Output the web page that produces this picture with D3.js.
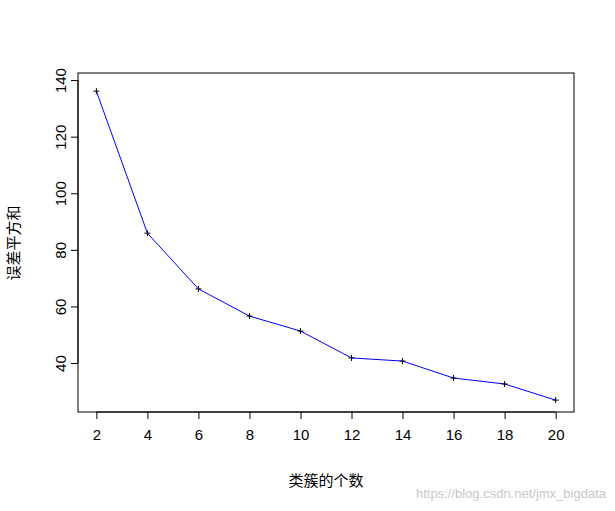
<!DOCTYPE html>
<html><head><meta charset="utf-8">
<script src="https://cdn.jsdelivr.net/npm/d3@7"></script>
<style>body{margin:0;background:#fff}text{font-family:Arial,"Liberation Sans","Noto Sans CJK SC",sans-serif}</style>
</head><body><div id="chart"></div>
<script>
var clusters = [2, 4, 6, 8, 10, 12, 14, 16, 18, 20];
var sse = [136.1, 85.9, 66.2, 56.6, 51.3, 41.8, 40.7, 34.7, 32.6, 26.9];
var xTicks = [2, 4, 6, 8, 10, 12, 14, 16, 18, 20];
var yTicks = [40, 60, 80, 100, 120, 140];

var width = 615, height = 511;
var svg = d3.select("#chart").append("svg").attr("width", width).attr("height", height);
var x = d3.scaleLinear().domain([1.28, 20.72]).range([78, 574]);
var y = d3.scaleLinear().domain([22.7, 142.5]).range([412, 73]);

svg.append("rect").attr("x", 78).attr("y", 73).attr("width", 496).attr("height", 339)
  .attr("fill", "none").attr("stroke", "#000");

var xa = svg.append("g").attr("transform", "translate(0,412)")
  .call(d3.axisBottom(x).tickValues(xTicks).tickSize(7).tickPadding(10));
var ya = svg.append("g").attr("transform", "translate(78,0)")
  .call(d3.axisLeft(y).tickValues(yTicks).tickSize(7).tickPadding(5));
[xa, ya].forEach(function (a) {
  a.select(".domain").remove();
  a.selectAll("text").attr("font-size", 15).attr("fill", "#000");
});
xa.append("line").attr("x1", x(2)).attr("x2", x(20)).attr("stroke", "#000");
ya.append("line").attr("y1", y(40)).attr("y2", y(140)).attr("stroke", "#000");
ya.selectAll(".tick text").attr("text-anchor", "middle")
  .attr("transform", "translate(-17,0) rotate(-90)")
  .attr("x", 0).attr("dy", "0.35em");

var line = d3.line().x(function (d, i) { return x(clusters[i]); }).y(function (d) { return y(d); });
svg.append("path").datum(sse).attr("d", line).attr("fill", "none").attr("stroke", "#0000ff");

svg.selectAll(".pt").data(sse).enter().append("path")
  .attr("transform", function (d, i) { return "translate(" + x(clusters[i]) + "," + y(d) + ")"; })
  .attr("d", "M-3,0H3M0,-3V3").attr("stroke", "#000").attr("stroke-width", 1);

svg.append("text").attr("x", 326).attr("y", 486).attr("text-anchor", "middle")
  .attr("font-size", 15).text("类簇的个数");
svg.append("text").attr("transform", "translate(19,243) rotate(-90)").attr("text-anchor", "middle")
  .attr("font-size", 15).text("误差平方和");
svg.append("text").attr("x", 606).attr("y", 498).attr("text-anchor", "end")
  .attr("font-size", 13).attr("fill", "#c8c8c8").text("https://blog.csdn.net/jmx_bigdata");
</script></body></html>
